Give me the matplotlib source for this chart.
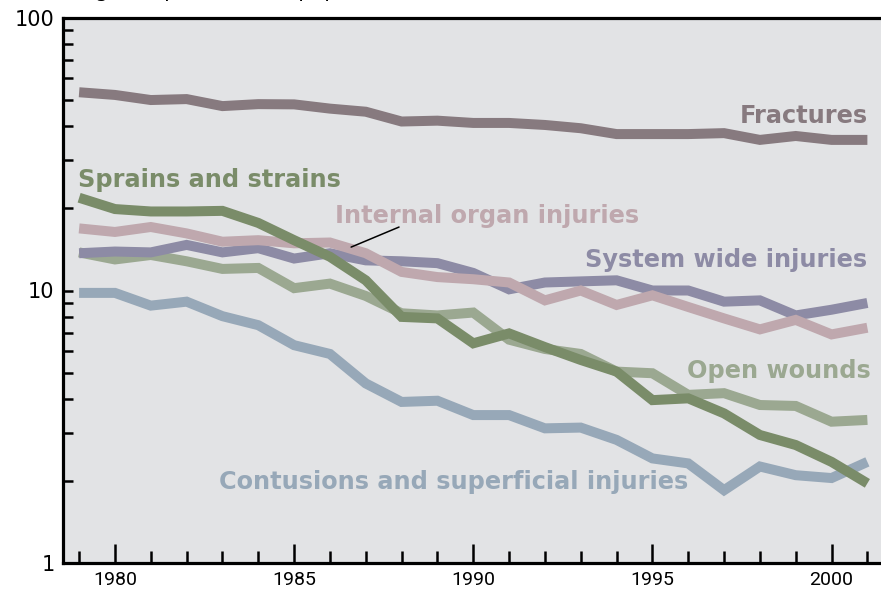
import matplotlib
matplotlib.use("Agg")
import matplotlib.pyplot as plt
from matplotlib.ticker import FixedLocator, NullFormatter, LogLocator

years = list(range(1979, 2002))

fractures = [53.4, 52.2, 50.0, 50.4, 47.5, 48.3, 48.2, 46.5, 45.3, 41.7, 42.0, 41.2,
             41.2, 40.5, 39.4, 37.5, 37.5, 37.5, 37.8, 35.7, 36.9, 35.7, 35.7]
sprains = [21.9, 19.9, 19.5, 19.5, 19.6, 17.7, 15.3, 13.3, 10.9, 8.0, 7.9, 6.4,
           6.96, 6.2, 5.56, 5.04, 3.96, 4.02, 3.54, 2.95, 2.71, 2.35, 1.96]
internal = [16.9, 16.4, 17.1, 16.2, 15.1, 15.3, 14.9, 15.0, 13.7, 11.7, 11.2, 11.0,
            10.7, 9.2, 10.0, 8.85, 9.6, 8.7, 7.9, 7.2, 7.8, 6.9, 7.3]
system_wide = [13.7, 13.9, 13.8, 14.7, 13.8, 14.3, 13.1, 13.7, 12.9, 12.8, 12.6, 11.6,
               10.1, 10.7, 10.8, 10.9, 10.0, 10.0, 9.1, 9.2, 8.1, 8.5, 9.0]
open_wounds = [13.8, 13.0, 13.5, 12.8, 12.0, 12.1, 10.2, 10.6, 9.55, 8.25, 8.1, 8.3,
               6.6, 6.1, 5.85, 5.04, 4.97, 4.14, 4.2, 3.8, 3.77, 3.3, 3.35]
contusions = [9.8, 9.8, 8.8, 9.1, 8.05, 7.46, 6.3, 5.85, 4.56, 3.9, 3.94, 3.49,
              3.49, 3.12, 3.14, 2.83, 2.42, 2.32, 1.85, 2.26, 2.1, 2.05, 2.35]

series = [
    ("Fractures", fractures, "#877a7f"),
    ("System wide injuries", system_wide, "#8d8ba5"),
    ("Internal organ injuries", internal, "#bfa8ae"),
    ("Open wounds", open_wounds, "#9ba891"),
    ("Sprains and strains", sprains, "#7a8c69"),
    ("Contusions and superficial injuries", contusions, "#97a8b8"),
]
colors = {name: c for name, _, c in series}

fig = plt.figure(figsize=(8.81, 5.92), dpi=100)
ax = fig.add_axes([63/881, 1 - 563/592, 1 - 63/881, (563 - 18)/592])
ax.set_facecolor("#e2e3e5")

draw_order = ["Contusions and superficial injuries", "Open wounds", "System wide injuries",
              "Internal organ injuries", "Sprains and strains", "Fractures"]
data = {name: vals for name, vals, _ in series}
for name in draw_order:
    ax.plot(years, data[name], color=colors[name], lw=7.2, solid_joinstyle="miter",
            solid_capstyle="butt", zorder=3)

ax.set_yscale("log")
ax.set_ylim(1, 100)
ax.set_xlim(1978.55, 2001.38)

ax.spines["top"].set_visible(False)
ax.spines["right"].set_visible(False)
ax.spines["left"].set_linewidth(2.3)
ax.spines["bottom"].set_linewidth(2.3)
ax.plot([0, 1], [1, 1], transform=ax.transAxes, color="black", lw=2.3, clip_on=False, zorder=5)

ax.yaxis.set_major_locator(FixedLocator([1, 10, 100]))
ax.yaxis.set_minor_locator(LogLocator(base=10, subs=range(2, 10)))
ax.yaxis.set_minor_formatter(NullFormatter())
ax.set_yticklabels(["1", "10", "100"])
ax.tick_params(axis="y", which="both", direction="in", length=7.5, width=1.8,
               labelsize=15, pad=6)

ax.xaxis.set_major_locator(FixedLocator([1980, 1985, 1990, 1995, 2000]))
ax.xaxis.set_minor_locator(FixedLocator(years))
ax.tick_params(axis="x", which="major", direction="in", length=14, width=1.8, pad=6)
ax.tick_params(axis="x", which="minor", direction="in", length=9, width=1.8)
for lab in ax.get_xticklabels():
    lab.set_fontfamily("Roboto")
    lab.set_fontsize(14)

tk = dict(fontsize=17.3, fontweight="bold", family="DejaVu Sans", zorder=6)
ax.text(2001.0, 43.6, "Fractures", color=colors["Fractures"], ha="right", va="center", **tk)
ax.text(1978.96, 25.4, "Sprains and strains", color=colors["Sprains and strains"],
        ha="left", va="center", **tk)
ax.text(1986.15, 18.75, "Internal organ injuries", color=colors["Internal organ injuries"],
        ha="left", va="center", **tk)
ax.text(2000.98, 12.95, "System wide injuries", color=colors["System wide injuries"],
        ha="right", va="center", **tk)
ax.text(2001.1, 5.07, "Open wounds", color=colors["Open wounds"], ha="right", va="center", **tk)
ax.text(1982.9, 1.98, "Contusions and superficial injuries",
        color=colors["Contusions and superficial injuries"], ha="left", va="center", **tk)
ax.annotate("", xy=(1986.52, 14.3), xytext=(1988.0, 17.25),
            arrowprops=dict(arrowstyle="-", color="black", lw=1.1), zorder=6)

fig.text(0.012, 1.0 + 3.5/592, "Declining rate per 100,000 population", fontsize=15,
         ha="left", va="baseline", color="black")

fig.savefig("out.png", dpi=100)
